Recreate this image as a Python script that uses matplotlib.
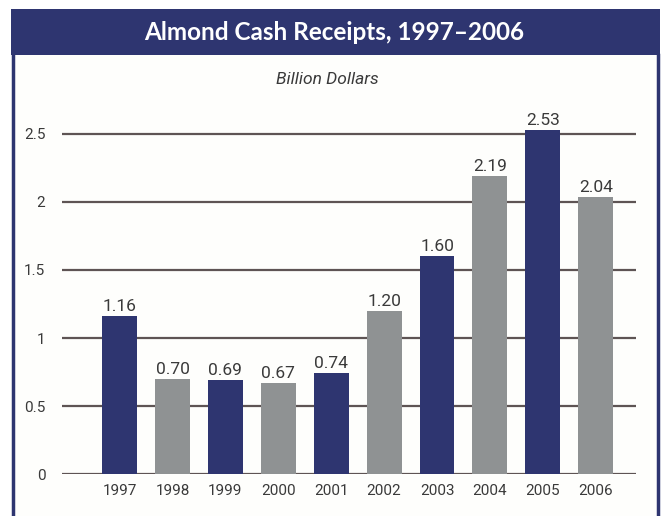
import matplotlib
matplotlib.use("Agg")
import matplotlib.pyplot as plt
from matplotlib.patches import Rectangle

years = ["1997", "1998", "1999", "2000", "2001", "2002", "2003", "2004", "2005", "2006"]
values = [1.16, 0.70, 0.69, 0.67, 0.74, 1.20, 1.60, 2.19, 2.53, 2.04]
value_labels = ["1.16", "0.70", "0.69", "0.67", "0.74", "1.20", "1.60", "2.19", "2.53", "2.04"]
yticks = [0, 0.5, 1, 1.5, 2, 2.5]
ytick_labels = ["0", "0.5", "1", "1.5", "2", "2.5"]
title = "Almond Cash Receipts, 1997\u20132006"
subtitle = "Billion Dollars"

NAVY = "#2e3570"
GRAY = "#8f9293"
GRID = "#5e5454"
TXT = "#3a3a3a"
FONT = ["Roboto", "DejaVu Sans"]

W, H = 661, 516
fig = plt.figure(figsize=(W / 100, H / 100), dpi=100)
fig.patch.set_facecolor("white")

def fx(px):
    return px / W

def fy(py):
    return 1 - py / H

# frame and title bar
fig.patches.append(Rectangle((fx(13), 0), fx(657) - fx(13), fy(55), transform=fig.transFigure,
                             facecolor="#fefefc", edgecolor="none", zorder=-2))
fig.patches.append(Rectangle((fx(11), fy(55)), fx(660) - fx(11), fy(9) - fy(55), transform=fig.transFigure,
                             facecolor=NAVY, edgecolor="none", zorder=-1))
fig.add_artist(plt.Line2D([fx(13), fx(13)], [0, fy(55)], transform=fig.transFigure, color=NAVY, lw=2.5))
fig.add_artist(plt.Line2D([fx(657.5), fx(657.5)], [0, fy(55)], transform=fig.transFigure, color=NAVY, lw=2.5))

fig.text(fx(334), fy(33), title, color="white", fontsize=17.5, fontweight="bold",
         family=["Lato", "DejaVu Sans"], ha="center", va="center")
fig.text(fx(327), fy(80), subtitle, color=TXT, fontsize=12.5, style="italic",
         family=FONT, ha="center", va="center")

ax_left, ax_right = 62, 636
y0_px, ppu = 474, 136
ytop = 2.72
ax = fig.add_axes([fx(ax_left), (H - y0_px) / H, fx(ax_right) - fx(ax_left), ytop * ppu / H])
ax.set_facecolor("none")
ax.set_zorder(5)

colors = [NAVY if i % 2 == 0 else GRAY for i in range(len(years))]
x = list(range(len(years)))
ax.bar(x, values, width=0.66, color=colors, zorder=3)
for xi, v, lab in zip(x, values, value_labels):
    ax.text(xi, v + 0.015, lab, ha="center", va="bottom", fontsize=12.5, color=TXT, family=FONT)

ax.set_xlim(-1.087, 9.76)
ax.set_ylim(0, ytop)
ax.set_yticks(yticks)
ax.set_yticklabels(ytick_labels)
ax.set_xticks(x)
ax.set_xticklabels(years)
for lab in ax.get_xticklabels() + ax.get_yticklabels():
    lab.set_family(FONT)
    lab.set_fontsize(11)
    lab.set_color(TXT)
ax.tick_params(axis="both", length=0)
ax.tick_params(axis="y", pad=12)
ax.tick_params(axis="x", pad=7)
for s in ax.spines.values():
    s.set_visible(False)
for t in yticks:
    ax.axhline(t, color=GRID, lw=1.6, zorder=1)

fig.savefig("out.png", dpi=100, facecolor="white")
